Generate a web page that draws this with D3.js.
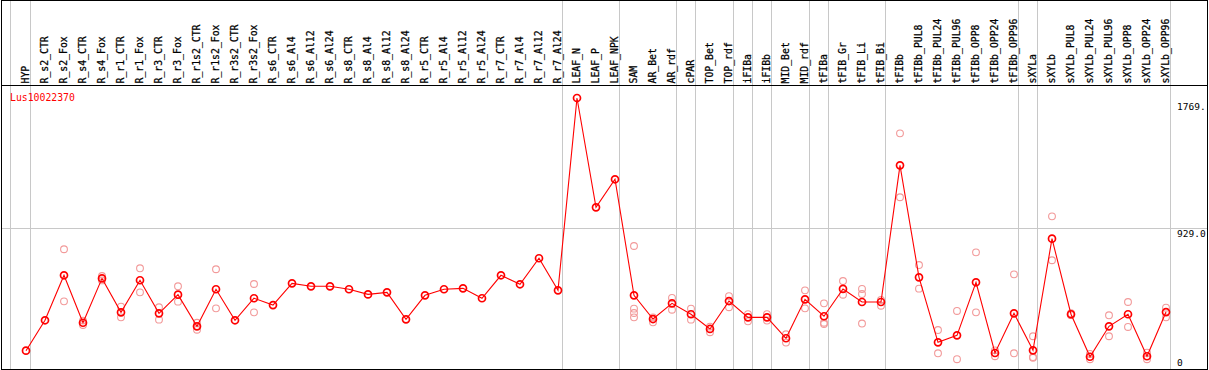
<!DOCTYPE html>
<html><head><meta charset="utf-8">
<script src="https://cdn.jsdelivr.net/npm/d3@7"></script>
<style>body{margin:0;background:#fff}svg{display:block}text{font-family:"DejaVu Sans Mono",monospace}</style>
</head><body><svg id="c" width="1209" height="370"></svg>
<script>
const categories = ["HYP","R_s2_CTR","R_s2_Fox","R_s4_CTR","R_s4_Fox","R_r1_CTR","R_r1_Fox","R_r3_CTR","R_r3_Fox","R_r1s2_CTR","R_r1s2_Fox","R_r3s2_CTR","R_r3s2_Fox","R_s6_CTR","R_s6_Al4","R_s6_Al12","R_s6_Al24","R_s8_CTR","R_s8_Al4","R_s8_Al12","R_s8_Al24","R_r5_CTR","R_r5_Al4","R_r5_Al12","R_r5_Al24","R_r7_CTR","R_r7_Al4","R_r7_Al12","R_r7_Al24","LEAF_N","LEAF_P","LEAF_NPK","SAM","AR_Bet","AR_rdf","cPAR","TOP_Bet","TOP_rdf","iFIBa","iFIBb","MID_Bet","MID_rdf","tFIBa","tFIB_Gr","tFIB_Li","tFIB_Bi","tFIBb","tFIBb_PUL8","tFIBb_PUL24","tFIBb_PUL96","tFIBb_OPP8","tFIBb_OPP24","tFIBb_OPP96","sXYLa","sXYLb","sXYLb_PUL8","sXYLb_PUL24","sXYLb_PUL96","sXYLb_OPP8","sXYLb_OPP24","sXYLb_OPP96"];
const means = [140,336,626,320,606,387,594,381,501,297,536,336,478,434,574,555,555,536,503,516,342,497,536,542,478,626,568,736,529,1769,1064,1245,497,344,445,375,280,460,355,355,220,471,362,538,454,454,1335,613,194,239,581,125,381,142,862,375,101,297,375,104,389];
const replicates = [[],[],[794,458],[306,334],[621,593],[424,355],[671,516],[420,340],[555,456],[320,275],[665,413],[],[570,387],[],[],[],[],[],[],[],[],[],[],[],[],[],[],[],[],[],[],[],[815,411,383,355],[355,323],[480,404],[411,340],[259,295],[492,420],[376,329],[376,334],[246,192],[529,413],[445,320,312],[589,501],[538,505,315],[467,430],[1541,1129],[692,540],[273,123],[396,85],[774,387],[104,142],[632,123],[233,99,94],[1006,723],[381,369],[85,119],[368,233],[454,293],[85,127],[417,355]];
const groupEnds = [0,28,31,34,35,37,38,39,41,42,45,52,53,60];
const yTicks = [1769,929,0];
const yTickLabels = ["1769.","929.0","0"];
const geneName = "Lus10022370";

const svg = d3.select("#c");
const x = d3.scaleLinear().domain([0, categories.length-1]).range([26, 1166]);
const y = d3.scaleLinear().domain([0, 1769]).range([372.4, 98]);
const grey = "#c8c8c8";

// horizontal gridline at mid value
svg.append("line").attr("x1",1).attr("x2",1207)
  .attr("y1",Math.floor(y(929))+0.5).attr("y2",Math.floor(y(929))+0.5)
  .attr("stroke",grey).attr("stroke-width",1);

// vertical separators
const seps = [x(0)-15.5].concat(groupEnds.map(i => x(i)+4.5));
svg.selectAll("line.sep").data(seps).enter().append("line").attr("class","sep")
  .attr("x1",d=>d).attr("x2",d=>d).attr("y1",0).attr("y2",369)
  .attr("stroke",grey).attr("stroke-width",1);

// header labels
svg.selectAll("text.cat").data(categories).enter().append("text").attr("class","cat")
  .attr("transform",(d,i)=>`translate(${x(i)+3.2},83.5) rotate(-90)`)
  .attr("font-size","9.8px").attr("fill","#000")
  .attr("stroke","#000").attr("stroke-width",0.25).text(d=>d);

// borders
svg.append("rect").attr("x",1.5).attr("y",0.5).attr("width",1206).attr("height",369)
  .attr("fill","none").attr("stroke","#000").attr("stroke-width",1);
svg.append("line").attr("x1",1).attr("x2",1208).attr("y1",85.5).attr("y2",85.5).attr("stroke","#000");

// gene name
svg.append("text").attr("x",10).attr("y",101).attr("fill","#ff0000").attr("font-size","9.8px").text(geneName);

// y labels
const ty = [y(1769)+12, y(929)+8.5, y(0)-6];
svg.append("g").selectAll("text").data(yTicks).enter().append("text")
  .attr("x",1177).attr("y",(d,i)=>ty[i]).attr("font-size","9.5px").attr("fill","#000")
  .text((d,i)=>yTickLabels[i]);

// replicate points
const repPts = [];
replicates.forEach((arr,i)=>arr.forEach(v=>repPts.push({i,v})));
svg.selectAll("circle.rep").data(repPts).enter().append("circle").attr("class","rep")
  .attr("cx",d=>x(d.i)).attr("cy",d=>y(d.v)).attr("r",3.4)
  .attr("fill","none").attr("stroke","#f29a9a").attr("stroke-width",1.1);

// line
svg.append("path").datum(means)
  .attr("d",d3.line().x((d,i)=>x(i)).y(d=>y(d)))
  .attr("fill","none").attr("stroke","#ff0000").attr("stroke-width",1.1);

// mean points
svg.selectAll("circle.mean").data(means).enter().append("circle").attr("class","mean")
  .attr("cx",(d,i)=>x(i)).attr("cy",d=>y(d)).attr("r",3.5)
  .attr("fill","none").attr("stroke","#ff0000").attr("stroke-width",1.7);
</script></body></html>
